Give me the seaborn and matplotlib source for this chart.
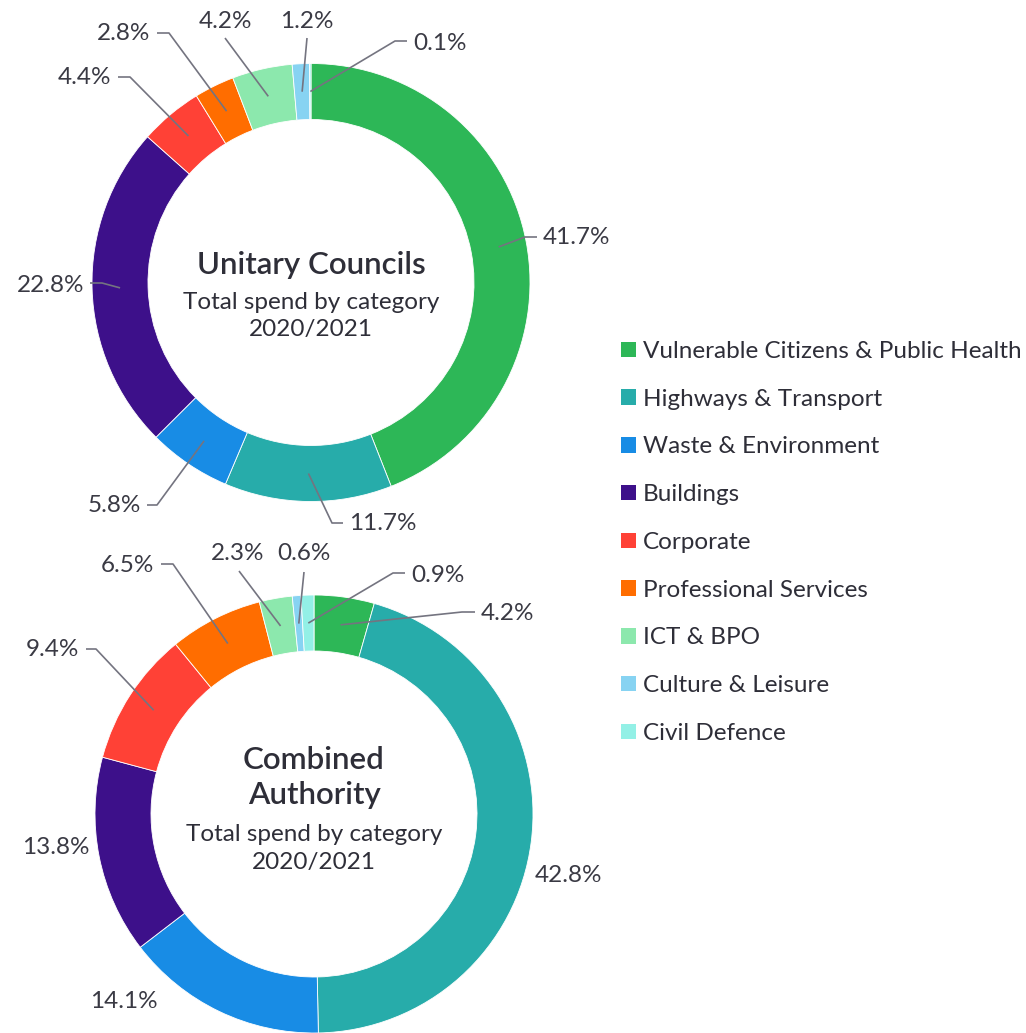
import numpy as np
import matplotlib
matplotlib.use("Agg")
import matplotlib.pyplot as plt
from matplotlib.patches import Patch
import seaborn as sns

sns.set_theme(style="white")
plt.rcParams['font.family'] = ['Lato', 'DejaVu Sans']

# Data
categories = ['Vulnerable Citizens & Public Health', 'Highways & Transport',
              'Waste & Environment', 'Buildings', 'Corporate',
              'Professional Services', 'ICT & BPO', 'Culture & Leisure',
              'Civil Defence']
unitary_pct  = [41.7, 11.7, 5.8, 22.8, 4.4, 2.8, 4.2, 1.2, 0.1]
combined_pct = [4.2, 42.8, 14.1, 13.8, 9.4, 6.5, 2.3, 0.6, 0.9]
colors = ['#2DB757', '#27ACAA', '#188CE5', '#3D108A', '#FF4136',
          '#FF6D00', '#8CE8AD', '#87D3F2', '#93F0E6']
unitary_title  = 'Unitary Councils'
combined_title = 'Combined\nAuthority'
subtitle = 'Total spend by category\n2020/2021'

W, H = 1026, 1033
TXT = '#2E2E38'
LBL = '#3A3A44'
LINE = '#747480'
R_OUT = 219
RING = 56
FS_LBL = 17.5

# label layout in pixel coords: (elbow, end of horizontal, text pos, ha)
unitary_layout = [
    ((525, 237), (537, 237), (543, 238), 'left'),
    ((332, 523), (343, 523), (349, 524), 'left'),
    ((157, 505), (147, 505), (141, 505), 'right'),
    ((102, 283), (90, 283), (84, 285), 'right'),
    ((130, 77), (118, 77), (111, 77), 'right'),
    ((169, 33), (157, 33), (150, 34), 'right'),
    ((225, 38), None, (225, 21), 'center'),
    ((307, 38), None, (307, 21), 'center'),
    ((395, 41), (407, 41), (413, 43), 'left'),
]
combined_layout = [
    ((462, 612), (475, 612), (481, 614), 'left'),
    (None, None, (535, 876), 'left'),
    (None, None, (158, 1002), 'right'),
    (None, None, (90, 848), 'right'),
    ((96, 649), (86, 649), (79, 650), 'right'),
    ((173, 564), (161, 564), (154, 565), 'right'),
    ((239, 571), None, (238, 553), 'center'),
    ((304, 572), None, (304, 553), 'center'),
    ((393, 573), (405, 573), (411, 575), 'left'),
]

fig = plt.figure(figsize=(W / 100, H / 100), dpi=100)
ax = fig.add_axes([0, 0, 1, 1])
ax.set_xlim(0, W)
ax.set_ylim(0, H)
ax.set_aspect('equal')
ax.axis('off')


def donut(values, center, layout, title, title_y, sub_y):
    cx, cy = center
    wedges, _ = ax.pie(values, colors=colors, radius=R_OUT, center=(cx, H - cy),
                       startangle=90, counterclock=False, frame=True,
                       wedgeprops=dict(width=RING, edgecolor='white', linewidth=0.6))
    total = float(np.sum(values))
    cum = np.cumsum(values) - np.array(values) / 2
    r_mid = R_OUT - RING / 2
    for v, c, (elbow, end, tpos, ha) in zip(values, cum, layout):
        ang = np.deg2rad(c / total * 360)
        sx = cx + r_mid * np.sin(ang)
        sy = cy - r_mid * np.cos(ang)
        if elbow is not None:
            pts = [(sx, sy), elbow] + ([end] if end is not None else [])
            xs = [p[0] for p in pts]
            ys = [H - p[1] for p in pts]
            ax.plot(xs, ys, color=LINE, lw=1.2, solid_capstyle='butt')
        ax.text(tpos[0], H - tpos[1], f'{v:.1f}%', ha=ha, va='center',
                fontsize=FS_LBL, color=LBL)
    ax.text(cx, H - title_y, title, ha='center', va='center', fontsize=22.5,
            fontweight='semibold', color=TXT, linespacing=1.3)
    ax.text(cx, H - sub_y, subtitle, ha='center', va='center', fontsize=17.5,
            color=TXT, linespacing=1.4)
    return wedges


donut(unitary_pct, (311, 282.5), unitary_layout, unitary_title, 265, 316)
donut(combined_pct, (314, 814), combined_layout, combined_title, 777.5, 848.5)

ax.set_xlim(0, W)
ax.set_ylim(0, H)

handles = [Patch(facecolor=c, edgecolor='none') for c in colors]
fig.legend(handles, categories, loc='upper left', bbox_to_anchor=(621 / W, 1 - 341 / H),
           frameon=False, fontsize=17.5, handlelength=0.6, handleheight=0.6,
           handletextpad=0.3, labelspacing=1.1, labelcolor=TXT, borderaxespad=0,
           borderpad=0)

plt.savefig('out.png', dpi=100)
